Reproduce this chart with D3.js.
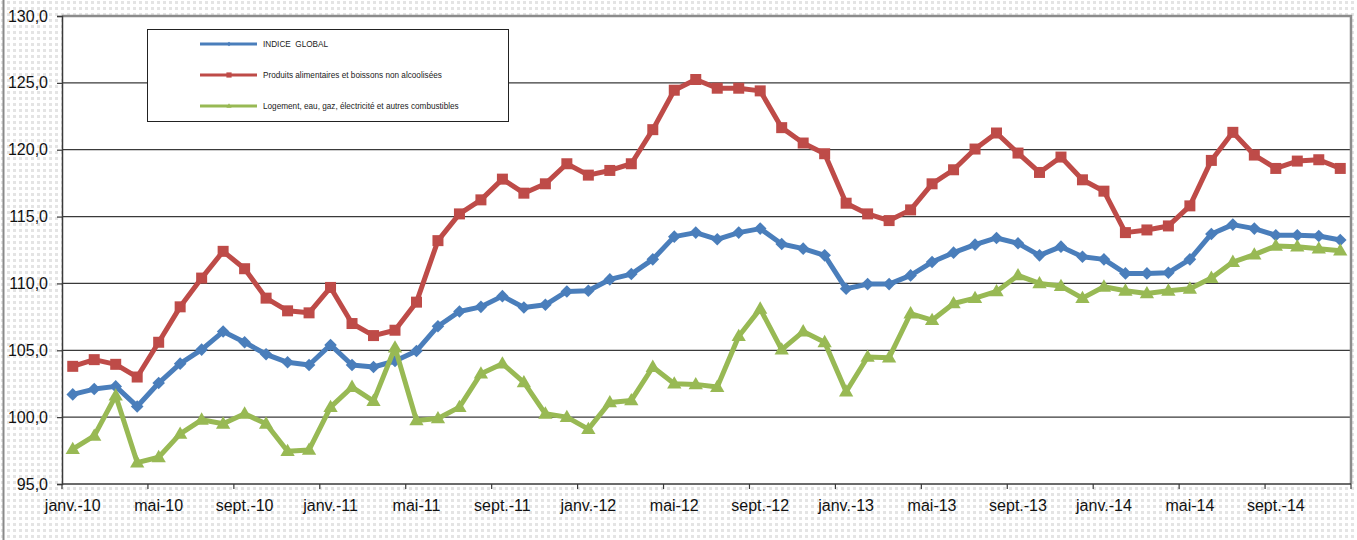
<!DOCTYPE html>
<html>
<head>
<meta charset="utf-8">
<script src="https://cdn.jsdelivr.net/npm/d3@7"></script>
<style>
  html, body { margin: 0; padding: 0; background: #fff; }
  svg { display: block; font-family: "Liberation Sans", Arial, sans-serif; }
  .lgtext { white-space: pre; }
</style>
</head>
<body>
<svg id="chart" width="1357" height="540"></svg>
<script>
const categories = [
  "janv.-10","févr.-10","mars-10","avr.-10","mai-10","juin-10","juil.-10","août-10","sept.-10","oct.-10","nov.-10","déc.-10",
  "janv.-11","févr.-11","mars-11","avr.-11","mai-11","juin-11","juil.-11","août-11","sept.-11","oct.-11","nov.-11","déc.-11",
  "janv.-12","févr.-12","mars-12","avr.-12","mai-12","juin-12","juil.-12","août-12","sept.-12","oct.-12","nov.-12","déc.-12",
  "janv.-13","févr.-13","mars-13","avr.-13","mai-13","juin-13","juil.-13","août-13","sept.-13","oct.-13","nov.-13","déc.-13",
  "janv.-14","févr.-14","mars-14","avr.-14","mai-14","juin-14","juil.-14","août-14","sept.-14","oct.-14","nov.-14","déc.-14"
];
const indiceGlobal = [
  101.7, 102.1, 102.3, 100.8, 102.55, 104.0, 105.05, 106.4, 105.6, 104.7, 104.1, 103.9,
  105.4, 103.9, 103.75, 104.2, 104.95, 106.8, 107.9, 108.25, 109.05, 108.2, 108.4, 109.4,
  109.45, 110.3, 110.7, 111.8, 113.5, 113.8, 113.3, 113.8, 114.1, 112.95, 112.6, 112.1,
  109.6, 109.95, 109.95, 110.6, 111.6, 112.3, 112.9, 113.4, 113.0, 112.1, 112.75, 112.0,
  111.8, 110.75, 110.75, 110.8, 111.8, 113.7, 114.4, 114.1, 113.6, 113.6, 113.55, 113.25
];
const produitsAlimentaires = [
  103.8, 104.3, 103.95, 103.0, 105.6, 108.25, 110.4, 112.4, 111.1, 108.9, 107.95, 107.8,
  109.7, 107.0, 106.1, 106.5, 108.6, 113.2, 115.2, 116.25, 117.8, 116.75, 117.45, 118.95,
  118.1, 118.45, 118.95, 121.5, 124.45, 125.25, 124.6, 124.6, 124.4, 121.65, 120.5, 119.7,
  116.0, 115.2, 114.7, 115.5, 117.45, 118.5, 120.05, 121.25, 119.75, 118.3, 119.45, 117.75,
  116.9, 113.8, 114.0, 114.3, 115.8, 119.2, 121.3, 119.6, 118.6, 119.15, 119.25, 118.6
];
const logement = [
  97.6, 98.6, 101.6, 96.6, 97.0, 98.75, 99.8, 99.5, 100.25, 99.5, 97.45, 97.55,
  100.75, 102.25, 101.2, 105.2, 99.75, 99.9, 100.75, 103.25, 104.0, 102.6, 100.25, 100.0,
  99.1, 101.1, 101.25, 103.75, 102.5, 102.45, 102.25, 106.05, 108.1, 105.05, 106.4, 105.6,
  101.9, 104.5, 104.45, 107.75, 107.25, 108.5, 108.9, 109.4, 110.6, 110.0, 109.8, 108.9,
  109.75, 109.45, 109.25, 109.45, 109.6, 110.4, 111.6, 112.15, 112.8, 112.75, 112.6, 112.45
];
const seriesNames = [
  "INDICE  GLOBAL",
  "Produits alimentaires et boissons non alcoolisées",
  "Logement, eau, gaz, électricité et autres combustibles"
];
const yTicks = [95, 100, 105, 110, 115, 120, 125, 130];
const xTickLabels = categories.filter((d, i) => i % 4 === 0);

(function () {
const svg = d3.select("#chart");
const W = 1357, H = 540;
const pLeft = 62, pRight = 1351, pTop = 16, pBottom = 484;

// background with dotted pattern
const defs = svg.append("defs");
const pat = defs.append("pattern").attr("id", "dots").attr("width", 6).attr("height", 6)
  .attr("patternUnits", "userSpaceOnUse");
pat.append("rect").attr("width", 6).attr("height", 6).attr("fill", "#ffffff");
pat.append("rect").attr("x", 1).attr("y", 1).attr("width", 3).attr("height", 3).attr("fill", "#e4e4e4");
svg.append("rect").attr("width", W).attr("height", H).attr("fill", "url(#dots)");
svg.append("line").attr("x1", 3.5).attr("x2", 3.5).attr("y1", 0).attr("y2", H)
  .attr("stroke", "#8a8a8a").attr("stroke-width", 2);

const x = d3.scaleBand().domain(categories).range([pLeft, pRight]).padding(0);
const y = d3.scaleLinear().domain([95, 130]).range([pBottom, pTop]);
const cx = d => x(d) + x.bandwidth() / 2;

// plot area
svg.append("rect").attr("x", pLeft).attr("y", pTop).attr("width", pRight - pLeft).attr("height", pBottom - pTop)
  .attr("fill", "#ffffff");

// gridlines
svg.append("g").selectAll("line").data(yTicks.filter(v => v > 95 && v < 130)).join("line")
  .attr("x1", pLeft).attr("x2", pRight).attr("y1", d => y(d)).attr("y2", d => y(d))
  .attr("stroke", "#3a3a3a").attr("stroke-width", 1.2);

// plot border (top & right)
svg.append("path")
  .attr("d", `M${pLeft},${pTop} H${pRight} V${pBottom}`)
  .attr("fill", "none").attr("stroke", "#8c8c8c").attr("stroke-width", 2.5);

// Y axis
const yAxis = d3.axisLeft(y).tickValues(yTicks).tickSize(5).tickPadding(9)
  .tickFormat(d => d3.format(".1f")(d).replace(".", ","));
const gy = svg.append("g").attr("transform", `translate(${pLeft},0)`).call(yAxis);
gy.select(".domain").attr("stroke", "#3a3a3a").attr("stroke-width", 1.5);
gy.selectAll(".tick line").attr("stroke", "#3a3a3a").attr("stroke-width", 1.2);
gy.selectAll(".tick text").attr("font-size", 16).attr("fill", "#111")
  .attr("font-family", "Liberation Sans, Arial, sans-serif");

// X axis: ticks at band boundaries every 4 categories, labels at category centers
const boundaryIdx = d3.range(0, categories.length + 1, 4);
const gx = svg.append("g");
gx.append("line").attr("x1", pLeft).attr("x2", pRight).attr("y1", pBottom).attr("y2", pBottom)
  .attr("stroke", "#3a3a3a").attr("stroke-width", 1.5);
gx.selectAll("line.tk").data(boundaryIdx).join("line").attr("class", "tk")
  .attr("x1", i => i < categories.length ? x(categories[i]) : pRight)
  .attr("x2", i => i < categories.length ? x(categories[i]) : pRight)
  .attr("y1", pBottom).attr("y2", pBottom + 5)
  .attr("stroke", "#3a3a3a").attr("stroke-width", 1.2);
gx.selectAll("text").data(xTickLabels).join("text")
  .attr("x", d => cx(d)).attr("y", pBottom + 27)
  .attr("text-anchor", "middle").attr("font-size", 16).attr("fill", "#111")
  .text(d => d);

// series
const colors = ["#4a7ebb", "#be4b48", "#98b954"];
const allSeries = [indiceGlobal, produitsAlimentaires, logement];
const markerPath = [
  s => `M0,${-s}L${s},0L0,${s}L${-s},0Z`,
  s => `M${-s},${-s}H${s}V${s}H${-s}Z`,
  s => `M0,${-s * 1.15}L${s * 1.1},${s * 0.75}H${-s * 1.1}Z`
];
const markerSize = [6.3, 5.5, 6.5];

const line = d3.line().x((d, i) => cx(categories[i])).y(d => y(d));

allSeries.forEach((vals, k) => {
  const g = svg.append("g");
  g.append("path").datum(vals).attr("d", line)
    .attr("fill", "none").attr("stroke", colors[k]).attr("stroke-width", 5)
    .attr("stroke-linejoin", "round");
  g.selectAll("path.m").data(vals).join("path").attr("class", "m")
    .attr("transform", (d, i) => `translate(${cx(categories[i])},${y(d)})`)
    .attr("d", markerPath[k](markerSize[k]))
    .attr("fill", colors[k]);
});

// legend
const lg = svg.append("g");
lg.append("rect").attr("x", 147.5).attr("y", 29.5).attr("width", 361).attr("height", 92)
  .attr("fill", "#ffffff").attr("stroke", "#222").attr("stroke-width", 1);
const legendY = [44, 75, 106];
const legendMarkerSize = [2.2, 2.6, 2.4];
seriesNames.forEach((name, k) => {
  lg.append("line").attr("x1", 200).attr("x2", 257).attr("y1", legendY[k]).attr("y2", legendY[k])
    .attr("stroke", colors[k]).attr("stroke-width", 3);
  lg.append("path").attr("transform", `translate(229,${legendY[k]})`)
    .attr("d", markerPath[k](legendMarkerSize[k])).attr("fill", colors[k]);
  lg.append("text").attr("class", "lgtext").attr("x", 263).attr("y", legendY[k] + 3).attr("font-size", 8.2)
    .attr("fill", "#222").text(name);
});
})();
</script>
</body>
</html>
